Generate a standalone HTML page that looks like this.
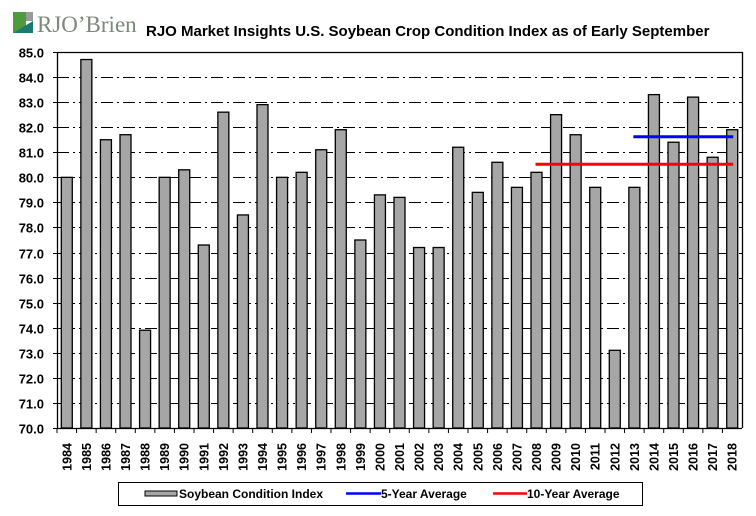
<!DOCTYPE html>
<html><head><meta charset="utf-8"><style>
body{margin:0;background:#fff;}
svg{display:block;font-family:"Liberation Sans",Arial,sans-serif;}
</style></head><body>
<svg width="756" height="516" viewBox="0 0 756 516" xmlns="http://www.w3.org/2000/svg">
<g>
<rect x="13" y="12" width="13" height="21" fill="#4f9a3c"/>
<rect x="26" y="12" width="7" height="9" fill="#9a9a9a"/>
<polygon points="13,33 33,21 33,33" fill="#1d7a6e"/>
<text x="37" y="32" font-family="Liberation Serif,serif" font-size="23" fill="#7a8a7a">RJO’Brien</text>
</g>
<text x="146" y="36" font-size="15" font-weight="bold" fill="#000">RJO Market Insights U.S. Soybean Crop Condition Index as of Early September</text>
<g id="grid"></g>
<g id="bars"></g>
<g id="avg"></g>
<g id="axes"></g>
<g>
<rect x="118.5" y="482.5" width="524" height="23" fill="#fff" stroke="#000"/>
<g><rect x="145" y="491" width="32" height="5" fill="#a6a6a6" stroke="#000"/><text x="179" y="498" font-size="12" font-weight="bold">Soybean Condition Index</text></g>
<g><line x1="346" y1="493.5" x2="381" y2="493.5" stroke="#0000ff" stroke-width="2.5"/><text x="381" y="498" font-size="12" font-weight="bold">5-Year Average</text></g>
<g><line x1="493" y1="493.5" x2="527" y2="493.5" stroke="#ff0000" stroke-width="2.5"/><text x="527" y="498" font-size="12" font-weight="bold">10-Year Average</text></g>
</g>
</svg>
<script>
const years=["1984","1985","1986","1987","1988","1989","1990","1991","1992","1993","1994","1995","1996","1997","1998","1999","2000","2001","2002","2003","2004","2005","2006","2007","2008","2009","2010","2011","2012","2013","2014","2015","2016","2017","2018"];
const values=[80.0,84.7,81.5,81.7,73.9,80.0,80.3,77.3,82.6,78.5,82.9,80.0,80.2,81.1,81.9,77.5,79.3,79.2,77.2,77.2,81.2,79.4,80.6,79.6,80.2,82.5,81.7,79.6,73.1,79.6,83.3,81.4,83.2,80.8,81.9];
const yTicks=[70,71,72,73,74,75,76,77,78,79,80,81,82,83,84,85];
const avg5=81.62, avg5Start=29, avg5End=34;
const avg10=80.52, avg10Start=24, avg10End=34;
const NS="http://www.w3.org/2000/svg";
const L=57,R=742,T=52,B=428,ymin=70,ymax=85;
const slot=(R-L)/years.length;
const y=v=>B-(v-ymin)/(ymax-ymin)*(B-T);
const xc=i=>L+slot*(i+0.5);
function mk(tag,attrs,parent){const e=document.createElementNS(NS,tag);for(const k in attrs)e.setAttribute(k,attrs[k]);document.getElementById(parent).appendChild(e);return e;}
yTicks.forEach(t=>{
 const yy=Math.round(y(t))+0.5;
 if(t>ymin&&t<ymax){const g=mk('line',{x1:L,x2:R,y1:yy,y2:yy,stroke:'#000','stroke-dasharray':'12,4,2,4'},'grid');
 
 }
 const tk=mk('line',{x1:L-4,x2:L,y1:yy,y2:yy,stroke:'#000'},'axes');
 
 
 const tx=mk('text',{x:L-13,y:yy+5,'text-anchor':'end','font-size':'13','font-weight':'bold'},'axes');
 tx.textContent=t.toFixed(1);
 
 
});
values.forEach((v,i)=>{
 const r=mk('rect',{x:xc(i)-5.5,y:y(v),width:11,height:B-y(v),fill:'#a6a6a6',stroke:'#000','stroke-width':1.3},'bars');
 
 
});
years.forEach((yr,i)=>{
 const tk=mk('line',{x1:L+slot*i,x2:L+slot*i,y1:B,y2:B+5,stroke:'#000'},'axes');
 
 
 const tx=mk('text',{x:0,y:0,transform:`translate(${xc(i)+4.5},443) rotate(-90)`,'text-anchor':'end','font-size':'12.5','font-weight':'bold'},'axes');
 tx.textContent=yr;
 
 
});
const l5=mk('line',{x1:xc(avg5Start)-1,x2:xc(avg5End)+1,y1:y(avg5),y2:y(avg5),stroke:'#0000ff','stroke-width':3},'avg');


const l10=mk('line',{x1:xc(avg10Start)-1,x2:xc(avg10End)+1,y1:y(avg10),y2:y(avg10),stroke:'#ff0000','stroke-width':3},'avg');


const ax=mk('path',{d:`M${L+0.5},${T} V${B+0.5} H${R}`,fill:'none',stroke:'#000','stroke-width':1.3},'axes');


const fr=mk('path',{d:`M${L},${T+0.5} H${R+0.5} V${B}`,fill:'none',stroke:'#000','stroke-width':1.3},'axes');


</script>
</body></html>
